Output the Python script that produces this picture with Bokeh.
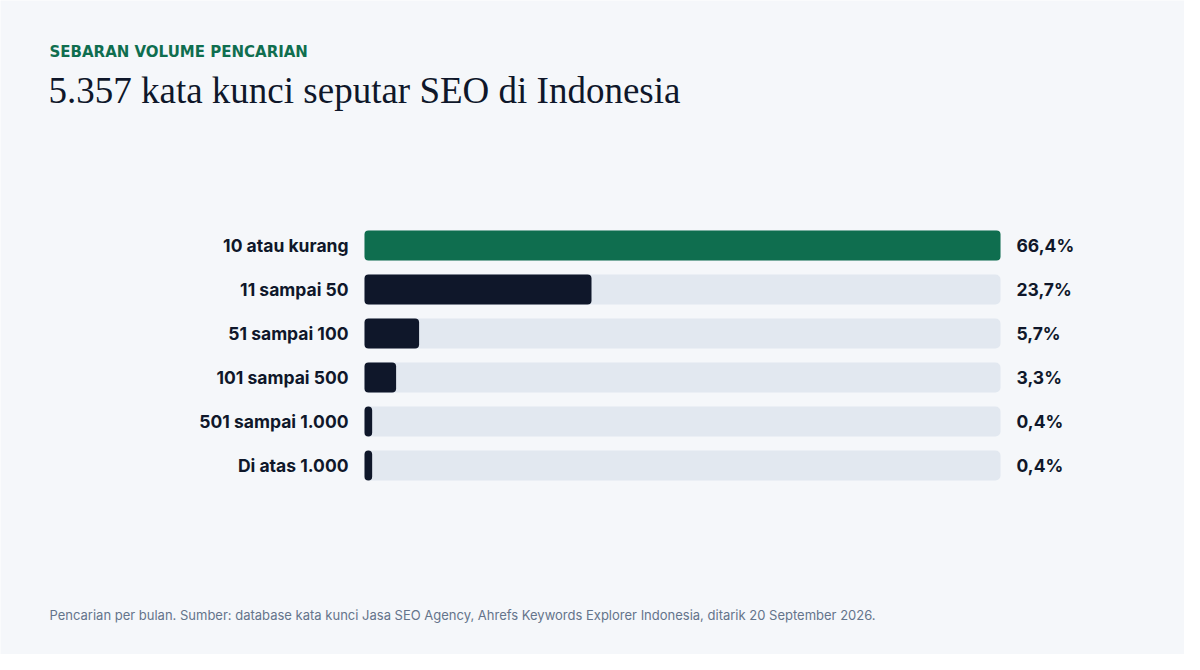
from bokeh.plotting import figure
from bokeh.models import ColumnDataSource, Range1d, Label
from bokeh.core.properties import value
from bokeh.embed import file_html
from bokeh.resources import INLINE

# ---- data ----
categories = ["10 atau kurang", "11 sampai 50", "51 sampai 100",
              "101 sampai 500", "501 sampai 1.000", "Di atas 1.000"]
shares = [66.4, 23.7, 5.7, 3.3, 0.4, 0.4]
share_labels = ["66,4%", "23,7%", "5,7%", "3,3%", "0,4%", "0,4%"]

kicker = "SEBARAN VOLUME PENCARIAN"
title_text = "5.357 kata kunci seputar SEO di Indonesia"
footer_text = ("Pencarian per bulan. Sumber: database kata kunci Jasa SEO Agency, "
               "Ahrefs Keywords Explorer Indonesia, ditarik 20 September 2026.")

# ---- style / layout ----
BG = "#f5f7fa"
TRACK = "#e2e8f0"
GREEN = "#0f6e4f"
DARK = "#0f172a"
GRAY = "#64748b"
W, H = 1184, 654
FRAME_L, FRAME_W = 364, 636          # track pixels
ROW0, PITCH = 245, 44                 # first row centre, row pitch (px)
MIN_VIS = 0.8                         # minimum visible bar length

vmax = max(shares)
k = FRAME_W / vmax
x_start = -FRAME_L / k
x_end = (W - FRAME_L) / k
y_top = -ROW0 / PITCH
y_bot = (H - ROW0) / PITCH

rows = list(range(len(categories)))
src = ColumnDataSource(dict(
    y=rows,
    cat=categories,
    share=shares,
    shown=[max(s, MIN_VIS) for s in shares],
    lab=share_labels,
    track=[vmax] * len(rows),
    color=[GREEN if i == 0 else DARK for i in rows],
))

p = figure(width=W, height=H, output_backend="svg", toolbar_location=None,
           x_range=Range1d(x_start, x_end), y_range=Range1d(y_bot, y_top),
           min_border=0, min_border_left=0, min_border_right=0,
           min_border_top=0, min_border_bottom=0)
p.axis.visible = False
p.grid.visible = False
p.outline_line_color = None
p.background_fill_color = BG
p.border_fill_color = BG

bar_h = 30 / PITCH
p.hbar(y="y", left=0, right="track", height=bar_h, source=src,
       fill_color=TRACK, line_color=None, border_radius=5)
p.hbar(y="y", left=0, right="shown", height=bar_h, source=src,
       fill_color="color", line_color=None, border_radius=4)

p.text(x=0, y="y", text="cat", source=src, x_offset=-16,
       text_align="right", text_baseline="middle",
       text_font=value("Inter"), text_font_size="17.5px", text_font_style="bold",
       text_color=DARK)
p.text(x="track", y="y", text="lab", source=src, x_offset=16,
       text_align="left", text_baseline="middle",
       text_font=value("Inter"), text_font_size="17.5px", text_font_style="bold",
       text_color=DARK)

p.add_layout(Label(x=49, y=H - 51, x_units="screen", y_units="screen",
                   text=kicker, text_font="DejaVu Sans", text_font_size="15px",
                   text_font_style="bold", text_color=GREEN,
                   text_baseline="alphabetic"))
p.add_layout(Label(x=48, y=H - 90, x_units="screen", y_units="screen",
                   text=title_text, text_font="Liberation Serif",
                   text_font_size="37px", text_color=DARK,
                   text_baseline="alphabetic"))
p.add_layout(Label(x=49, y=H - 614, x_units="screen", y_units="screen",
                   text=footer_text, text_font="Inter", text_font_size="13px",
                   text_color=GRAY, text_baseline="alphabetic"))

html = file_html(p, INLINE)
html = html.replace("<body>", '<body style="background:%s">' % BG, 1)
open("out.html", "w").write(html)
